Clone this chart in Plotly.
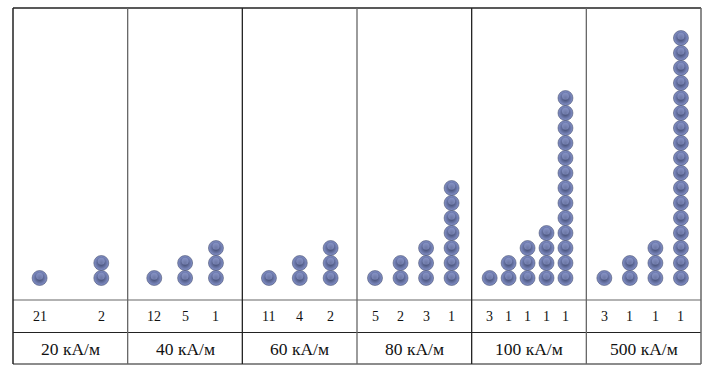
import plotly.graph_objects as go
import numpy as np

# ---- data ----
field_labels = ["20 кА/м", "40 кА/м", "60 кА/м", "80 кА/м", "100 кА/м", "500 кА/м"]
chain_sizes = [
    [1, 2],
    [1, 2, 3],
    [1, 2, 3],
    [1, 2, 3, 7],
    [1, 2, 3, 4, 13],
    [1, 2, 3, 17],
]
chain_counts = [
    [21, 2],
    [12, 5, 1],
    [11, 4, 2],
    [5, 2, 3, 1],
    [3, 1, 1, 1, 1],
    [3, 1, 1, 1],
]

# ---- layout constants ----
W, H = 710, 373
x_left, x_right = 13, 701
y_top, y_mid1, y_mid2, y_bot = 8, 300, 332.5, 364
sphere_px = 15.0
n_panels = len(field_labels)

def column_positions(n):
    # positions (in panel units, 0..1) of the columns in a panel
    if n <= 3:
        lo, hi = 0.232, 0.77
        if n == 2:
            return [lo, hi]
        return list(np.linspace(lo, hi, n))
    lo, hi = 0.157, 0.825 if n == 4 else 0.818
    return list(np.linspace(lo, hi, n))

xs, ys, num_x, num_text = [], [], [], []
for p, (sizes, counts) in enumerate(zip(chain_sizes, chain_counts)):
    pos = column_positions(len(sizes))
    for c, (s, cnt) in enumerate(zip(sizes, counts)):
        x = p + pos[c]
        for k in range(1, s + 1):
            xs.append(x)
            ys.append(k)
        num_x.append(x)
        num_text.append(str(cnt))

# y axis: sphere index units
plot_h = y_mid1 - y_top
units = plot_h / sphere_px
y0 = 1 - (y_mid1 - 278) / sphere_px
y_range = [y0, y0 + units]

fig = go.Figure()
fig.add_trace(go.Scatter(
    x=xs, y=ys, mode="markers",
    marker=dict(size=15, color="#8593cb",
                gradient=dict(type="radial", color="#353d60"),
                line=dict(width=0.5, color="#333a58")),
    hoverinfo="skip", showlegend=False,
))
# soft highlight on upper part of each sphere
fig.add_trace(go.Scatter(
    x=xs, y=[y + 0.12 for y in ys], mode="markers",
    marker=dict(size=7, color="#9ba7dc", opacity=0.55, line=dict(width=0)),
    hoverinfo="skip", showlegend=False,
))

xdom = [x_left / W, x_right / W]
ydom = [(H - y_mid1) / H, (H - y_top) / H]

fig.update_layout(
    width=W, height=H,
    margin=dict(l=0, r=0, t=0, b=0),
    paper_bgcolor="white", plot_bgcolor="white",
    xaxis=dict(domain=xdom, range=[0, n_panels], visible=False, fixedrange=True),
    yaxis=dict(domain=ydom, range=y_range, visible=False, fixedrange=True),
    showlegend=False,
)

def px_x(v):
    return v / W
def px_y(v):
    return (H - v) / H

outer = "#222222"
inner = "#666666"
shapes = []
def hline(y, color, w):
    shapes.append(dict(type="line", xref="paper", yref="paper", x0=px_x(x_left), x1=px_x(x_right),
                       y0=px_y(y), y1=px_y(y), line=dict(color=color, width=w)))
def vline_px(x, color, w):
    shapes.append(dict(type="line", xref="paper", yref="paper", x0=px_x(x), x1=px_x(x),
                       y0=px_y(y_top), y1=px_y(y_bot), line=dict(color=color, width=w)))
hline(y_top, outer, 1.5)
hline(y_bot, inner, 1.5)
hline(y_mid1, inner, 1.2)
hline(y_mid2, outer, 1.2)
vline_px(x_left, outer, 1.5)
vline_px(x_right, inner, 1.5)
for p in range(1, n_panels):
    shapes.append(dict(type="line", xref="x", yref="paper", x0=p, x1=p,
                       y0=px_y(y_top), y1=px_y(y_bot),
                       line=dict(color=outer if p % 2 == 0 else inner, width=1.3)))
fig.update_layout(shapes=shapes)

serif = "Liberation Serif, Times New Roman, serif"
annotations = []
for x, t in zip(num_x, num_text):
    annotations.append(dict(x=x, y=px_y(316), xref="x", yref="paper", text=t,
                            showarrow=False, font=dict(family=serif, size=14, color="#111"),
                            xanchor="center", yanchor="middle"))
for p, lab in enumerate(field_labels):
    annotations.append(dict(x=p + 0.5, y=px_y(348.5), xref="x", yref="paper", text=lab,
                            showarrow=False, font=dict(family=serif, size=17.5, color="#111"),
                            xanchor="center", yanchor="middle"))
fig.update_layout(annotations=annotations)

fig.write_html("out.html", config={"displayModeBar": False, "staticPlot": True},
               post_script="document.body.style.margin='0';document.body.style.padding='0';")
